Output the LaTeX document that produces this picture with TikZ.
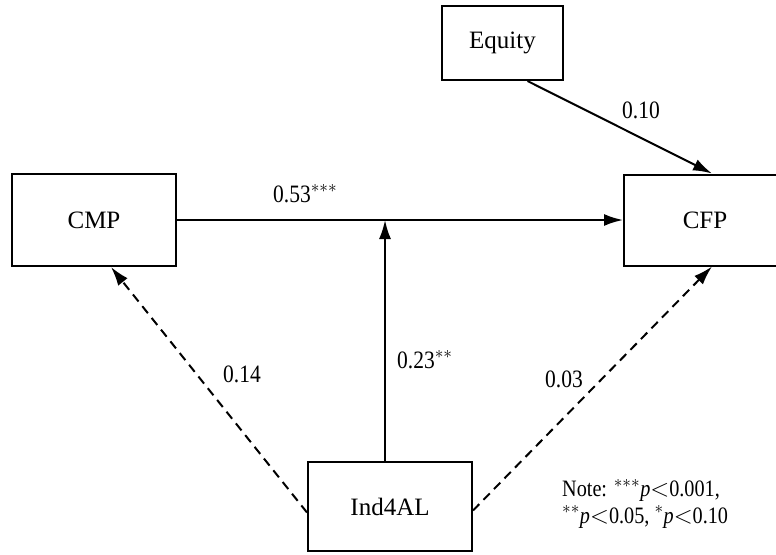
\documentclass[tikz,border=0pt]{standalone}
\usepackage{fontspec}
\setmainfont{Liberation Serif}
\newfontfamily\numfont[FakeStretch=0.86]{Liberation Serif}
\usetikzlibrary{arrows.meta,calc}
\begin{document}
\begin{tikzpicture}[x=1pt,y=-1pt,
  box/.style={draw,line width=2pt,inner sep=0pt,font=\fontsize{25}{28}\selectfont},
  conn/.style={line width=2pt,-{Latex[length=19pt,width=12pt]}},
  dashconn/.style={conn,dash pattern=on 9pt off 6pt},
  lbl/.style={font=\numfont\fontsize{25}{28}\selectfont,inner sep=0pt,anchor=base west},
  notelbl/.style={lbl,align=left,font=\numfont\fontsize{23.5}{26.5}\selectfont}]
\useasboundingbox (0,0) rectangle (776,554);
\begin{scope}
\clip (0,0) rectangle (776,554);
\node[box,minimum width=164pt,minimum height=92pt] (CMP) at (94,220) {CMP};
\node[box,minimum width=121pt,minimum height=74pt] (Equity) at (502.5,43) {Equity};
\node[box,minimum width=162pt,minimum height=91pt] (CFP) at (705,220) {CFP};
\node[box,minimum width=164pt,minimum height=89pt] (Ind) at (390,506.5) {Ind4AL};
\draw[conn] (CMP.east) -- (CFP.west);
\coordinate (B) at ($(Ind.north)+(-5,0)$);
\coordinate (J) at (B |- CMP.east);
\draw[conn] (B) -- (J);
\draw[conn] ($(Equity.south)+(25,0)$) -- ($(CFP.north)+(7,0)$);
\draw[dashconn] ($(Ind.west)+(0,6)$) -- ($(CMP.south)+(17,0)$);
\draw[dashconn] ($(Ind.east)+(0,4)$) -- ($(CFP.south)+(7,0)$);
\end{scope}
\node[lbl] (l53) at (273,202) {0.53$^{***}$};
\node[lbl] (l10) at (622,118) {0.10};
\node[lbl] (l14) at (223,382) {0.14};
\node[lbl] (l23) at (397,368) {0.23$^{**}$};
\node[lbl] (l03) at (545,387) {0.03};
\node[notelbl] (note) at (562,523) {Note: $^{***}$\textit{p}$<$0.001,\\$^{**}$\textit{p}$<$0.05, $^{*}$\textit{p}$<$0.10};
\end{tikzpicture}
\end{document}
